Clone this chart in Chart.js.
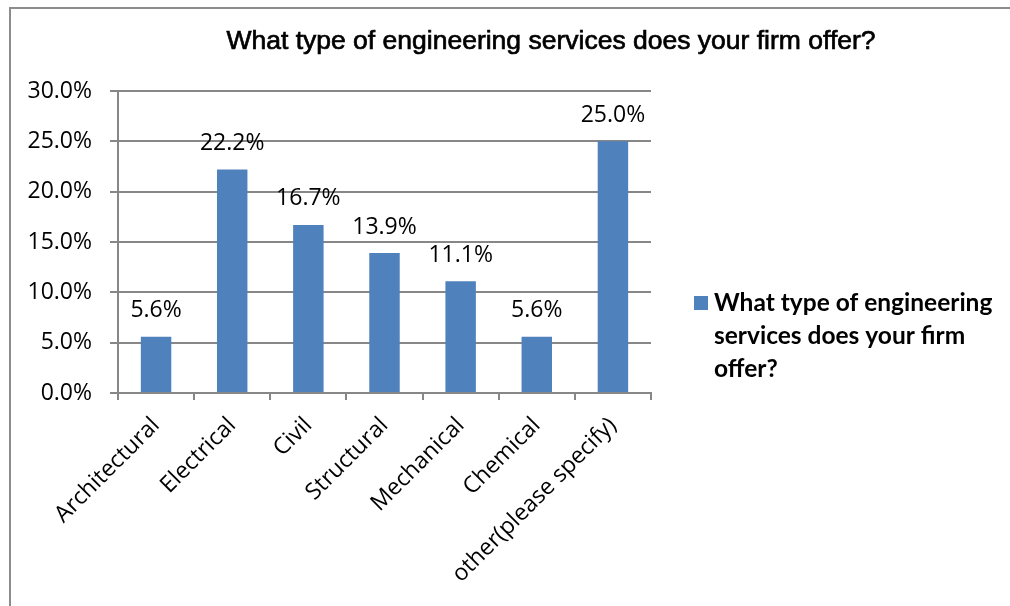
<!DOCTYPE html>
<html>
<head>
<meta charset="utf-8">
<script src="https://cdn.jsdelivr.net/npm/chart.js@4/dist/chart.umd.min.js"></script>
<style>
  html, body { margin: 0; padding: 0; background: #fff; }
  #wrap { position: relative; width: 1010px; height: 606px; }
  #frame { position: absolute; left: 9px; top: 7px; right: 0; bottom: 0;
           border-left: 2px solid #8c8c8c; border-top: 2px solid #8c8c8c; pointer-events: none; }
  canvas { position: absolute; left: 0; top: 0; }
</style>
</head>
<body>
<div id="wrap">
  <canvas id="chart" width="1010" height="606"></canvas>
  <div id="frame"></div>
</div>
<script>
// Survey answers: share of respondents per engineering service
const categories = ["Architectural", "Electrical", "Civil", "Structural", "Mechanical", "Chemical", "other(please specify)"];
const shares = [5.6, 22.2, 16.7, 13.9, 11.1, 5.6, 25.0];
const seriesName = "What type of engineering services does your firm offer?";
const legendLines = ["What type of engineering", "services does your firm", "offer?"];
const yTicks = [0, 5, 10, 15, 20, 25, 30];

const barColor = "#4F81BD";
const gridColor = "#878787";
const bodyFont = "'Open Sans', 'Noto Sans', sans-serif";

// Chart heading, centred over the plot and legend together
const heading = {
  id: "heading",
  afterDraw(chart) {
    const ctx = chart.ctx;
    ctx.save();
    ctx.font = "26.5px 'Liberation Sans', Arial, sans-serif";
    ctx.fillStyle = "#000";
    ctx.strokeStyle = "#000";
    ctx.lineWidth = 0.7;
    ctx.textAlign = "center";
    ctx.textBaseline = "middle";
    ctx.fillText(seriesName, 551, 42);
    ctx.strokeText(seriesName, 551, 42);
    ctx.restore();
  }
};

// Value labels above each bar
const valueLabels = {
  id: "valueLabels",
  afterDatasetsDraw(chart) {
    const ctx = chart.ctx;
    const meta = chart.getDatasetMeta(0);
    ctx.save();
    ctx.font = "23px " + bodyFont;
    ctx.fillStyle = "#000";
    ctx.textAlign = "center";
    ctx.textBaseline = "middle";
    meta.data.forEach((bar, i) => {
      ctx.fillText(shares[i].toFixed(1) + "%", bar.x, bar.y - 26);
    });
    ctx.restore();
  }
};

// Wrapped legend on the right side
const sideLegend = {
  id: "sideLegend",
  afterDraw(chart) {
    const ctx = chart.ctx;
    ctx.save();
    ctx.fillStyle = barColor;
    ctx.fillRect(694, 296, 14, 14);
    ctx.fillStyle = "#000";
    ctx.font = "bold 24.5px Lato, 'Open Sans', sans-serif";
    ctx.textAlign = "left";
    ctx.textBaseline = "middle";
    legendLines.forEach((line, i) => ctx.fillText(line, 714, 303 + i * 33));
    ctx.restore();
  }
};

new Chart(document.getElementById("chart"), {
  type: "bar",
  data: {
    labels: categories,
    datasets: [{
      label: seriesName,
      data: shares,
      backgroundColor: barColor,
      borderWidth: 0,
      barPercentage: 0.4,
      categoryPercentage: 1.0
    }]
  },
  options: {
    responsive: false,
    animation: false,
    layout: { padding: { left: 0, right: 359, top: 91, bottom: 0 } },
    plugins: {
      legend: { display: false },
      tooltip: { enabled: false },
      title: { display: false }
    },
    scales: {
      x: {
        grid: { display: true, offset: true, drawOnChartArea: false, color: gridColor, lineWidth: 2, tickLength: 7, tickColor: gridColor },
        border: { display: true, color: gridColor, width: 2 },
        ticks: {
          color: "#000",
          font: { family: bodyFont, size: 23 },
          minRotation: 45, maxRotation: 45,
          padding: 12,
          autoSkip: false
        },
        afterFit(scale) { scale.height = 606 - 393; }
      },
      y: {
        min: 0, max: 30,
        afterBuildTicks(scale) { scale.ticks = yTicks.map(v => ({ value: v })); },
        grid: { color: gridColor, lineWidth: 2, tickLength: 8, tickColor: gridColor },
        border: { display: true, color: gridColor, width: 2 },
        ticks: {
          color: "#000",
          font: { family: bodyFont, size: 23 },
          padding: 18,
          callback: v => v.toFixed(1) + "%"
        },
        afterFit(scale) { scale.width = 118; }
      }
    }
  },
  plugins: [heading, valueLabels, sideLegend]
});
</script>
</body>
</html>
